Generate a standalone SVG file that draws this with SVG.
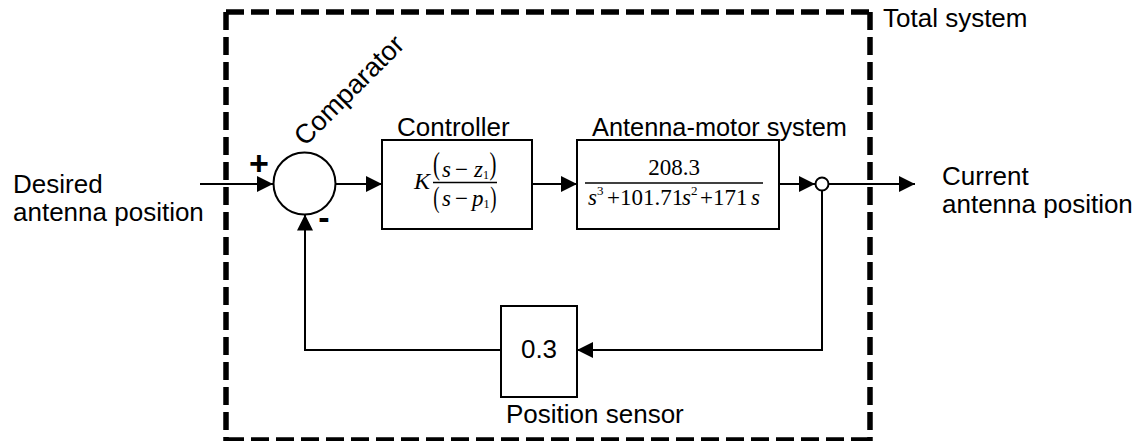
<svg xmlns="http://www.w3.org/2000/svg" width="1142" height="441" viewBox="0 0 1142 441">
<style>
.lbl{font-family:"Liberation Sans",Arial,sans-serif;font-size:26px;fill:#000}
.sign{font-family:"Liberation Sans",Arial,sans-serif;font-size:34px;font-weight:bold;fill:#000}
.m{font-family:"Liberation Serif","Times New Roman",serif;font-size:23px;fill:#000}
.mi{font-style:italic}
.sub{font-size:12px}
.sup{font-size:13px}
.box{fill:#fff;stroke:#000;stroke-width:2}
.wire{fill:none;stroke:#000;stroke-width:2}
.bar{stroke:#000;stroke-width:1.3}
.dash{fill:none;stroke:#000;stroke-width:5.5;stroke-dasharray:18 7}
</style>
<defs>
<marker id="arr" markerUnits="userSpaceOnUse" markerWidth="16" markerHeight="16" viewBox="0 0 15 15" refX="15" refY="7.5" orient="auto">
<path d="M0,0 L15,7.5 L0,15 z" fill="#000"/>
</marker>
</defs>
<rect width="1142" height="441" fill="#fff"/>

<g id="total-system">
<path class="dash" d="M226,12 L870,12"/>
<path class="dash" d="M226,12 L226,441"/>
<path class="dash" d="M870,12 L870,441"/>
<path class="dash" d="M226,440 L870,440"/>
<text class="lbl" x="883" y="27">Total system</text>
</g>

<g id="connectors">
<line class="wire" x1="200" y1="184" x2="273" y2="184" marker-end="url(#arr)"/>
<line class="wire" x1="336" y1="184" x2="382" y2="184" marker-end="url(#arr)"/>
<line class="wire" x1="532" y1="184" x2="577" y2="184" marker-end="url(#arr)"/>
<line class="wire" x1="779" y1="184" x2="815" y2="184" marker-end="url(#arr)"/>
<line class="wire" x1="828.5" y1="184" x2="915" y2="184" marker-end="url(#arr)"/>
<polyline class="wire" points="822,190.5 822,350 577,350" marker-end="url(#arr)"/>
<polyline class="wire" points="501,350 305,350 305,214.5" marker-end="url(#arr)"/>
</g>

<g id="input">
<text class="lbl" x="13" y="193">Desired</text>
<text class="lbl" x="13" y="221">antenna position</text>
</g>

<g id="output">
<text class="lbl" x="942" y="185">Current</text>
<text class="lbl" x="942" y="213">antenna position</text>
</g>

<g id="comparator">
<circle cx="304.5" cy="183.5" r="31" class="box"/>
<text class="sign" x="259" y="175" text-anchor="middle">+</text>
<text class="sign" x="324" y="229" text-anchor="middle">-</text>
<text class="lbl" transform="translate(305 147) rotate(-45)" style="font-size:27px">Comparator</text>
</g>

<g id="controller">
<rect class="box" x="382" y="140" width="150" height="89"/>
<text class="lbl" x="397" y="136">Controller</text>
<text class="m mi" x="414" y="189" style="font-size:24px">K</text>
<text class="m" transform="translate(436.5 173.7) scale(0.65 1)" text-anchor="middle" style="font-size:32px">(</text>
<text class="m" x="442" y="177"><tspan class="mi">s</tspan><tspan x="455">−</tspan><tspan x="474" class="mi">z</tspan><tspan x="483" y="179" class="sub">1</tspan></text>
<text class="m" transform="translate(493 173.7) scale(0.65 1)" text-anchor="middle" style="font-size:32px">)</text>
<line class="bar" x1="433" y1="182.5" x2="497" y2="182.5"/>
<text class="m" transform="translate(436.5 206.6) scale(0.65 1)" text-anchor="middle" style="font-size:29px">(</text>
<text class="m" x="442" y="206"><tspan class="mi">s</tspan><tspan x="455">−</tspan><tspan x="472" class="mi">p</tspan><tspan x="483.5" y="208" class="sub">1</tspan></text>
<text class="m" transform="translate(493.5 206.6) scale(0.65 1)" text-anchor="middle" style="font-size:29px">)</text>
</g>

<g id="antenna-motor">
<rect class="box" x="577" y="140" width="202" height="89"/>
<text class="lbl" x="592" y="136" textLength="255" lengthAdjust="spacingAndGlyphs">Antenna-motor system</text>
<text class="m" x="674" y="175" text-anchor="middle">208.3</text>
<line class="bar" x1="585" y1="183" x2="763" y2="183"/>
<text class="m" x="588" y="205"><tspan class="mi">s</tspan><tspan x="597" y="195" class="sup">3</tspan><tspan x="607" y="205">+101.71</tspan><tspan x="682" class="mi">s</tspan><tspan x="691" y="195" class="sup">2</tspan><tspan x="700" y="205">+171</tspan><tspan x="751" class="mi">s</tspan></text>
</g>

<g id="takeoff">
<circle cx="822" cy="184" r="6.5" fill="#fff" stroke="#000" stroke-width="2"/>
</g>

<g id="position-sensor">
<rect class="box" x="501" y="306" width="76" height="91"/>
<text class="lbl" x="539" y="358" text-anchor="middle">0.3</text>
<text class="lbl" x="506" y="423">Position sensor</text>
</g>
</svg>
